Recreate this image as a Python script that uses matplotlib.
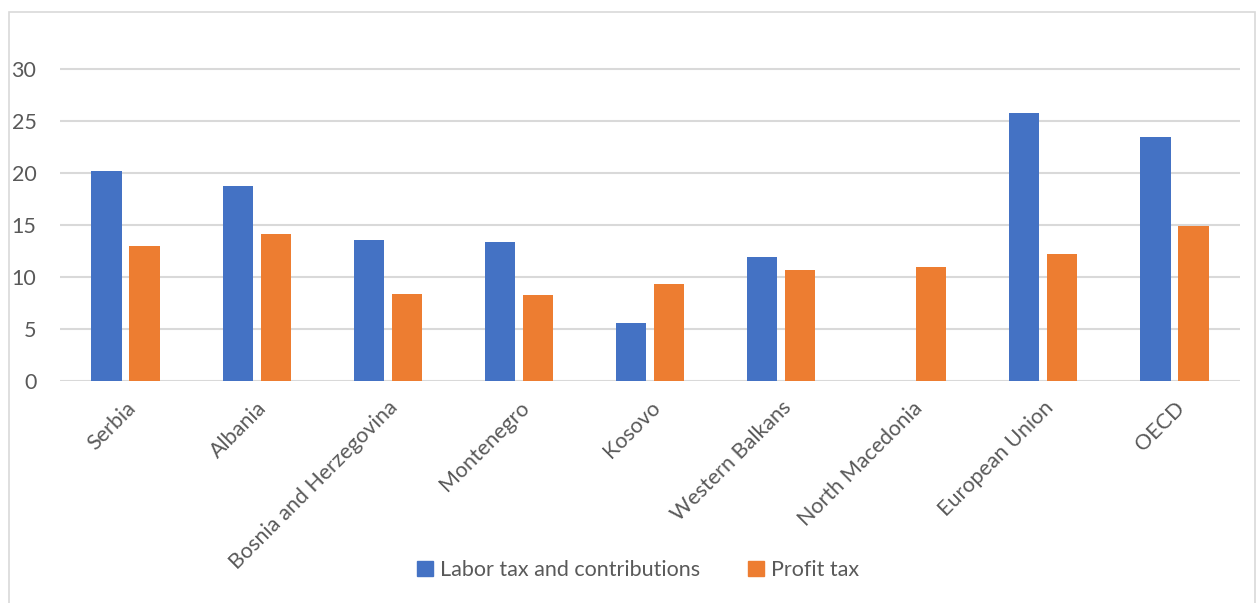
import numpy as np
import matplotlib
matplotlib.use('Agg')
from matplotlib import pyplot as plt
from matplotlib.patches import Rectangle, Patch

plt.rcParams['font.family'] = ['Lato', 'DejaVu Sans']

# tax revenue by country / group
countries = ['Serbia', 'Albania', 'Bosnia and Herzegovina', 'Montenegro', 'Kosovo',
             'Western Balkans', 'North Macedonia', 'European Union', 'OECD']
labor_tax = [20.2, 18.8, 13.6, 13.4, 5.6, 11.9, 0.0, 25.8, 23.5]
profit_tax = [13.0, 14.1, 8.4, 8.3, 9.3, 10.7, 11.0, 12.2, 14.9]
series_names = ['Labor tax and contributions', 'Profit tax']
yticks = [0, 5, 10, 15, 20, 25, 30]

blue = '#4472c4'
orange = '#ed7d31'
grey_text = '#595959'

W, H = 1258, 603
fig = plt.figure(figsize=(W / 100, H / 100), dpi=100)
ax = fig.add_axes([60 / W, 1 - 381 / H, 1180 / W, 341 / H])

x = np.arange(len(countries))
bw = 0.23
off = 0.145
ax.bar(x - off, labor_tax, bw, color=blue, zorder=3)
ax.bar(x + off, profit_tax, bw, color=orange, zorder=3)

ax.set_xlim(-0.5, len(countries) - 0.5)
ax.set_ylim(0, 32.8)
ax.set_yticks(yticks)
ax.yaxis.grid(True, color='#d9d9d9', linewidth=1.5, zorder=0)
ax.set_axisbelow(True)
for s in ax.spines.values():
    s.set_visible(False)
ax.tick_params(axis='both', length=0, colors=grey_text, labelsize=15.5)
ax.tick_params(axis='y', pad=17)
ax.set_xticks(x)
ax.set_xticklabels(countries, rotation=45, ha='right', rotation_mode='anchor')
ax.tick_params(axis='x', pad=12)

handles = [Patch(color=blue), Patch(color=orange)]
fig.legend(handles, series_names, loc='center', bbox_to_anchor=(638 / W, 1 - 570 / H),
           ncol=2, frameon=False, fontsize=15.5, labelcolor=grey_text,
           handlelength=0.75, handleheight=0.75, handletextpad=0.35, columnspacing=2.2)

# light frame round the chart
fig.patches.append(Rectangle((9 / W, -0.05), 1246 / W, 1 - 12 / H + 0.05,
                             transform=fig.transFigure, fill=False,
                             edgecolor='#d9d9d9', linewidth=1.2))

fig.savefig('out.png', dpi=100)
